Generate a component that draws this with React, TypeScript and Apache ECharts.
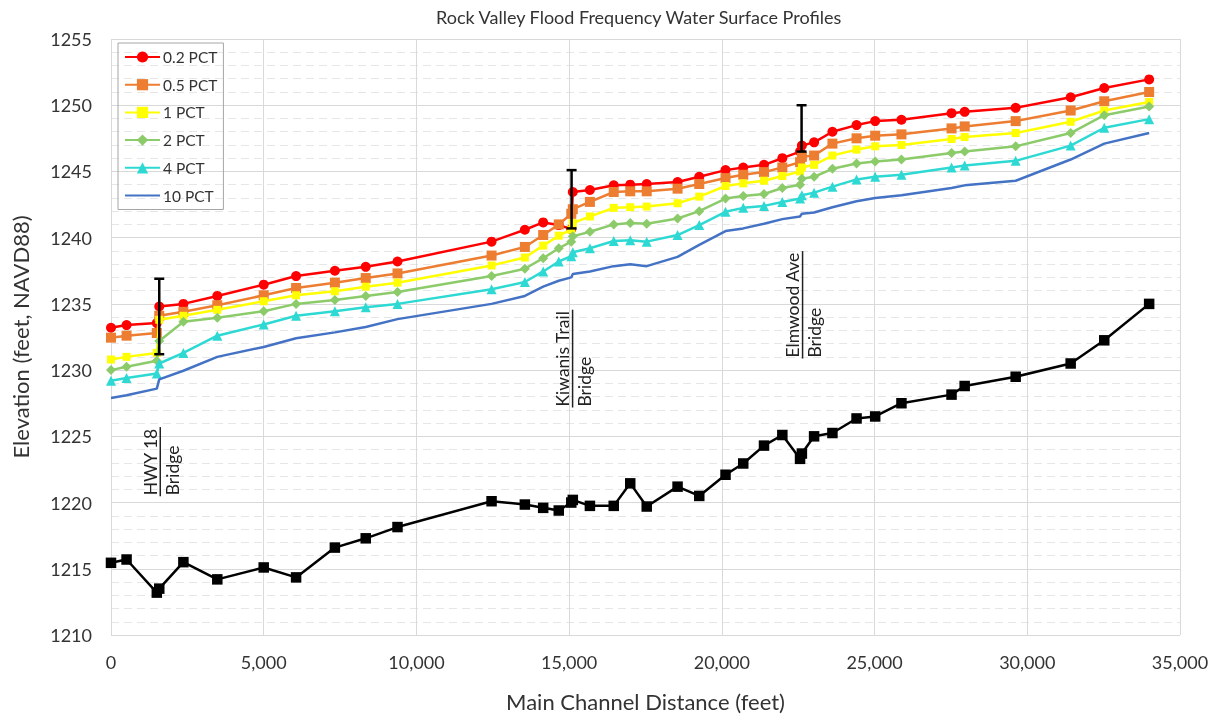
import React, { useEffect, useRef } from "react";
import * as echarts from "echarts";

const stations = [0, 510, 1500, 1580, 2370, 3480, 5000, 6060, 7330, 8340, 9380, 12460, 13550, 14150, 14660, 15070, 15120, 15680, 16460, 17000, 17540, 18550, 19260, 20120, 20700, 21380, 21980, 22560, 22620, 23020, 23620, 24410, 25020, 25880, 27520, 27950, 29620, 31420, 32520, 33990];

const pct02 = [1233.2, 1233.4, 1233.55, 1234.8, 1235.0, 1235.6, 1236.45, 1237.1, 1237.5, 1237.8, 1238.2, 1239.7, 1240.6, 1241.15, 1240.95, 1240.65, 1243.45, 1243.6, 1243.95, 1244.0, 1244.05, 1244.2, 1244.6, 1245.1, 1245.3, 1245.5, 1246.0, 1246.5, 1246.95, 1247.2, 1248.0, 1248.5, 1248.8, 1248.9, 1249.4, 1249.5, 1249.8, 1250.6, 1251.3, 1251.95];
const pct05 = [1232.45, 1232.6, 1232.8, 1234.1, 1234.4, 1234.9, 1235.65, 1236.2, 1236.6, 1236.95, 1237.3, 1238.65, 1239.3, 1240.2, 1241.0, 1241.8, 1242.15, 1242.7, 1243.45, 1243.5, 1243.5, 1243.7, 1244.05, 1244.5, 1244.75, 1244.95, 1245.3, 1245.7, 1246.1, 1246.2, 1247.1, 1247.5, 1247.7, 1247.8, 1248.25, 1248.4, 1248.8, 1249.6, 1250.3, 1251.0];
const pct1 = [1230.8, 1231.0, 1231.3, 1233.8, 1234.1, 1234.55, 1235.2, 1235.65, 1235.95, 1236.3, 1236.6, 1237.9, 1238.5, 1239.4, 1240.15, 1240.6, 1241.1, 1241.6, 1242.25, 1242.3, 1242.35, 1242.6, 1243.1, 1243.9, 1244.1, 1244.3, 1244.65, 1245.0, 1245.3, 1245.5, 1246.2, 1246.65, 1246.9, 1247.0, 1247.45, 1247.6, 1247.9, 1248.75, 1249.6, 1250.25];
const pct2 = [1230.0, 1230.25, 1230.7, 1232.2, 1233.65, 1233.95, 1234.45, 1235.0, 1235.3, 1235.6, 1235.9, 1237.1, 1237.65, 1238.45, 1239.2, 1239.7, 1240.1, 1240.45, 1241.0, 1241.1, 1241.05, 1241.45, 1242.0, 1242.95, 1243.15, 1243.3, 1243.75, 1244.0, 1244.45, 1244.6, 1245.2, 1245.6, 1245.75, 1245.9, 1246.4, 1246.5, 1246.9, 1247.9, 1249.25, 1249.9];
const pct4 = [1229.2, 1229.4, 1229.75, 1230.5, 1231.3, 1232.6, 1233.45, 1234.1, 1234.45, 1234.75, 1235.0, 1236.1, 1236.65, 1237.45, 1238.2, 1238.6, 1238.9, 1239.2, 1239.75, 1239.8, 1239.7, 1240.2, 1240.95, 1241.95, 1242.25, 1242.4, 1242.7, 1242.95, 1243.2, 1243.4, 1243.85, 1244.4, 1244.6, 1244.75, 1245.3, 1245.45, 1245.8, 1246.95, 1248.3, 1248.95];
const pct10 = [1227.9, 1228.1, 1228.6, 1229.3, 1229.95, 1231.0, 1231.75, 1232.4, 1232.85, 1233.25, 1233.85, 1235.0, 1235.6, 1236.3, 1236.75, 1237.0, 1237.25, 1237.45, 1237.85, 1238.0, 1237.85, 1238.55, 1239.45, 1240.5, 1240.7, 1241.05, 1241.4, 1241.6, 1241.8, 1241.9, 1242.3, 1242.75, 1243.0, 1243.2, 1243.75, 1243.95, 1244.3, 1245.9, 1247.1, 1247.9];
const channelBed = [1215.45, 1215.7, 1213.2, 1213.5, 1215.5, 1214.2, 1215.1, 1214.35, 1216.6, 1217.3, 1218.15, 1220.1, 1219.85, 1219.6, 1219.4, 1220.0, 1220.2, 1219.75, 1219.75, 1221.45, 1219.7, 1221.2, 1220.5, 1222.1, 1222.95, 1224.3, 1225.1, 1223.3, 1223.7, 1225.0, 1225.25, 1226.35, 1226.5, 1227.5, 1228.15, 1228.8, 1229.5, 1230.5, 1232.25, 1235.0];

const seriesNames = ["0.2 PCT", "0.5 PCT", "1 PCT", "2 PCT", "4 PCT", "10 PCT"];

const bridgeNames = ["HWY 18", "Kiwanis Trail", "Elmwood Ave"];
const bridgeStations = [1580, 15080, 22610];
const bridgeLow = [1231.2, 1240.7, 1246.5];
const bridgeHigh = [1236.9, 1245.1, 1250.0];

// annotation anchor (elevation of the bottom end of each rotated label)
const labelBaseElev = [1220.55, 1227.25, 1230.95];

const FONT = "Lato, 'Open Sans', sans-serif";

function measure(text: string, font: string): number {
  const c = document.createElement("canvas");
  const ctx = c.getContext("2d");
  if (!ctx) return text.length * 8;
  ctx.font = font;
  return ctx.measureText(text).width;
}

export default function App() {
  const ref = useRef<HTMLDivElement>(null);

  useEffect(() => {
    if (!ref.current) return;
    const chart = echarts.init(ref.current, null, { renderer: "svg" });

    const zip = (vals: number[]) => stations.map((s, i) => [s, vals[i]]);
    const colors = ["#FF0000", "#ED7D31", "#FFFF00", "#8CCB6A", "#2ED9D3", "#4472C4"];
    const symbols = ["circle", "rect", "rect", "diamond", "triangle", "none"];
    const sizes = [10, 10, 8, 10, 10, 0];
    const vals = [pct02, pct05, pct1, pct2, pct4, pct10];

    const labelFont = `17.5px ${FONT}`;

    const profileSeries: any[] = seriesNames.map((name, i) => ({
      name,
      type: "line",
      data: zip(vals[i]),
      symbol: symbols[i],
      symbolSize: sizes[i],
      showSymbol: symbols[i] !== "none",
      itemStyle: { color: colors[i] },
      lineStyle: { color: colors[i], width: 2.5 },
      z: 2 + i,
    }));

    const option: any = {
      animation: false,
      title: {
        text: "Rock Valley Flood Frequency Water Surface Profiles",
        left: 431,
        top: 3,
        textStyle: { fontFamily: FONT, fontSize: 18, fontWeight: "normal", color: "#333" },
      },
      legend: {
        data: seriesNames.map((n, i) =>
          i === 5 ? { name: n, itemStyle: { opacity: 0 } } : { name: n }
        ),
        orient: "vertical",
        left: 118,
        top: 43,
        padding: [6, 6, 6, 6],
        itemGap: 11.7,
        itemWidth: 35,
        itemHeight: 14,
        borderColor: "#A6A6A6",
        borderWidth: 1,
        textStyle: { fontFamily: FONT, fontSize: 15.5, lineHeight: 16, color: "#333", padding: [0, 0, 0, -2] },
      },
      grid: { left: 111, right: 45, top: 39, bottom: 78, containLabel: false },
      xAxis: {
        type: "value",
        min: 0,
        max: 35000,
        interval: 5000,
        name: "Main Channel Distance (feet)",
        nameLocation: "middle",
        nameGap: 55,
        nameTextStyle: { fontFamily: FONT, fontSize: 22, color: "#333" },
        axisLine: { show: false },
        axisTick: { show: false },
        axisLabel: {
          margin: 18,
          fontFamily: FONT,
          fontSize: 18,
          color: "#333",
          formatter: (v: number) => v.toLocaleString("en-US"),
        },
        splitLine: { show: true, lineStyle: { color: "#D9D9D9", width: 1 } },
      },
      yAxis: {
        type: "value",
        min: 1210,
        max: 1255,
        interval: 5,
        name: "Elevation (feet, NAVD88)",
        nameLocation: "middle",
        nameGap: 80,
        nameTextStyle: { fontFamily: FONT, fontSize: 22, color: "#333" },
        axisLine: { show: false },
        axisTick: { show: false },
        axisLabel: {
          margin: 19,
          fontFamily: FONT,
          fontSize: 18,
          color: "#333",
          formatter: (v: number) => String(v),
        },
        splitLine: { show: true, lineStyle: { color: "#D9D9D9", width: 1 } },
        minorTick: { show: false, splitNumber: 5 },
        minorSplitLine: { show: true, lineStyle: { color: "#E6E6E6", width: 1, type: [8, 5] } },
      },
      series: [
        ...profileSeries,
        {
          name: "Channel Bed",
          type: "line",
          data: zip(channelBed),
          symbol: "rect",
          symbolSize: 10.5,
          itemStyle: { color: "#000" },
          lineStyle: { color: "#000", width: 2.5 },
          z: 9,
        },
        {
          name: "Bridge Deck",
          type: "custom",
          data: bridgeStations.map((s, i) => [s, bridgeLow[i], bridgeHigh[i]]),
          encode: { x: 0, y: [1, 2] },
          z: 10,
          renderItem: (params: any, api: any) => {
            const x = api.value(0);
            const lo = api.coord([x, api.value(1)]);
            const hi = api.coord([x, api.value(2)]);
            const st = { stroke: "#000", lineWidth: 2.5 };
            const cap = 5;
            return {
              type: "group",
              children: [
                { type: "line", shape: { x1: lo[0], y1: lo[1], x2: hi[0], y2: hi[1] }, style: st },
                { type: "line", shape: { x1: lo[0] - cap, y1: lo[1], x2: lo[0] + cap, y2: lo[1] }, style: st },
                { type: "line", shape: { x1: hi[0] - cap, y1: hi[1], x2: hi[0] + cap, y2: hi[1] }, style: st },
              ],
            };
          },
        },
        {
          name: "Bridge Labels",
          type: "custom",
          data: bridgeStations.map((s, i) => [s, labelBaseElev[i]]),
          encode: { x: 0, y: 1 },
          z: 10,
          renderItem: (params: any, api: any) => {
            const p = api.coord([api.value(0), api.value(1)]);
            const name = bridgeNames[params.dataIndex];
            const w = measure(name, labelFont);
            const ux = p[0] + 1;
            return {
              type: "group",
              children: [
                {
                  type: "text",
                  x: ux - 1,
                  y: p[1],
                  rotation: Math.PI / 2,
                  style: { text: name, fill: "#222", font: labelFont, align: "left", verticalAlign: "bottom" },
                },
                {
                  type: "line",
                  shape: { x1: ux, y1: p[1] + 1, x2: ux, y2: p[1] - w - 1 },
                  style: { stroke: "#222", lineWidth: 1.5 },
                },
                {
                  type: "text",
                  x: ux + 3,
                  y: p[1],
                  rotation: Math.PI / 2,
                  style: { text: "Bridge", fill: "#222", font: labelFont, align: "left", verticalAlign: "top" },
                },
              ],
            };
          },
        },
      ],
    };

    chart.setOption(option);
    return () => chart.dispose();
  }, []);

  return (
    <div
      ref={ref}
      style={{ position: "fixed", left: 0, top: 0, width: 1225, height: 717 }}
    />
  );
}
